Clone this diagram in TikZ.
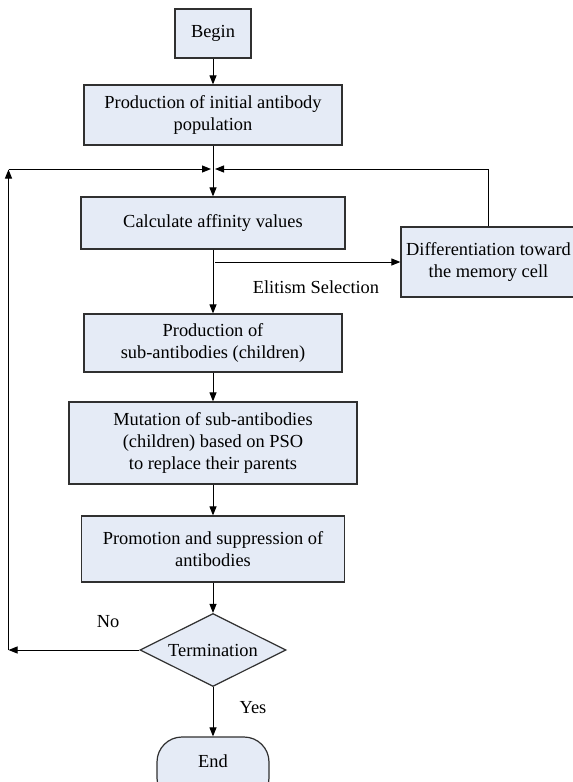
\documentclass[tikz,border=0pt]{standalone}
\usepackage{fontspec}
\newfontfamily\chartfont{LiberationSerif}[Extension=.ttf, UprightFont=*-Regular, BoldFont=*-Bold]
\usetikzlibrary{arrows.meta,shapes.geometric}
\definecolor{boxfill}{HTML}{E5EBF6}
\definecolor{boxline}{HTML}{303030}
\tikzset{
  stepbox/.style={draw=boxline, fill=boxfill, line width=1.2pt, inner sep=0pt,
    align=center, font=\chartfont\fontsize{18.4}{22}\selectfont},
  decision/.style={stepbox, diamond, aspect=2},
  terminal/.style={stepbox, rounded corners=25pt},
  flow/.style={draw=black, line width=1pt, -{Triangle[length=9pt,width=7pt]}},
  plain/.style={draw=black, line width=1pt},
  tag/.style={font=\chartfont\fontsize{18.4}{22}\selectfont, inner sep=0pt}
}
\begin{document}
\begin{tikzpicture}[x=1pt, y=-1pt]
\useasboundingbox (0,0) rectangle (573,782);
\clip (0,0) rectangle (573,782);
\fill[white] (0,0) rectangle (573,782);

% process steps
\node[stepbox, minimum width=76pt, minimum height=49pt] (begin) at (213,33.5) {Begin};
\node[stepbox, minimum width=258pt, minimum height=60pt] (init) at (213,115)
  {Production of initial antibody\\population};
\node[stepbox, minimum width=264pt, minimum height=52pt] (calc) at (213,223)
  {Calculate affinity values};
\node[stepbox, minimum width=175pt, minimum height=70pt] (diff) at (488.5,262)
  {Differentiation toward\\the memory cell};
\node[stepbox, minimum width=258pt, minimum height=58pt] (sub) at (213,343)
  {Production of\\sub-antibodies (children)};
\node[stepbox, minimum width=288pt, minimum height=82pt] (mut) at (213,443)
  {Mutation of sub-antibodies\\(children) based on PSO\\to replace their parents};
\node[stepbox, minimum width=263pt, minimum height=66pt] (prom) at (213,549)
  {Promotion and suppression of\\antibodies};
\node[decision, minimum width=146pt, minimum height=73pt] (term) at (213,650)
  {Termination};
\node[terminal, minimum width=112pt, minimum height=66pt, text height=13pt, text depth=19pt]
  (end) at (213,770) {End};

% junction points of the loops
\coordinate (jn) at (213,169);
\coordinate (jl) at (8.5,169);
\coordinate (jb) at (8.5,650);
\coordinate (jr) at (diff.north |- jn);
\coordinate (es) at (215,262);

% main flow
\draw[flow] (begin) -- (init);
\draw[flow] (init) -- (calc);
\draw[flow] (calc) -- (sub);
\draw[flow] (sub) -- (mut);
\draw[flow] (mut) -- (prom);
\draw[flow] (prom) -- (term);
\draw[flow] (term) -- (end);

% elitism branch and memory feedback
\draw[flow] (es) -- (diff.west);
\draw[plain] (diff.north) -- (jr);
\draw[flow] (jr) -- ([xshift=2pt]jn);

% termination loop
\draw[flow] (term.west) -- (jb);
\draw[flow] (jb) -- ([yshift=-0.5pt]jl);
\draw[flow] (jl) -- ([xshift=-2pt]jn);

% labels
\node[tag] (elit) at (316,287) {Elitism Selection};
\node[tag] (no) at (108,622) {No};
\node[tag] (yes) at (253,708) {Yes};
\end{tikzpicture}
\end{document}
